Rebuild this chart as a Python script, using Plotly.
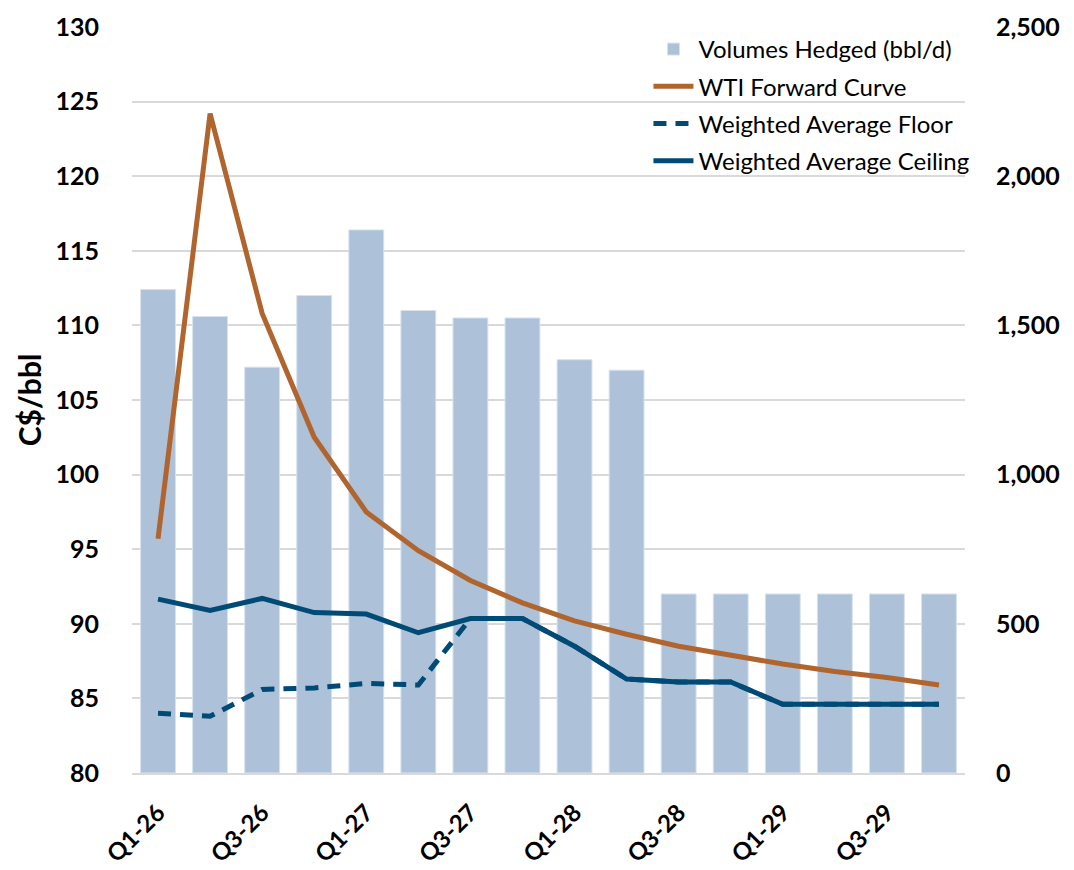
import plotly.graph_objects as go

quarters = ["Q1-26", "Q2-26", "Q3-26", "Q4-26", "Q1-27", "Q2-27", "Q3-27", "Q4-27",
            "Q1-28", "Q2-28", "Q3-28", "Q4-28", "Q1-29", "Q2-29", "Q3-29", "Q4-29"]
volumes = [1620, 1530, 1360, 1600, 1820, 1550, 1525, 1525, 1385, 1350, 600, 600, 600, 600, 600, 600]
wti = [95.7, 124.2, 110.8, 102.5, 97.5, 94.9, 92.9, 91.4, 90.2, 89.3, 88.5, 87.9, 87.3, 86.8, 86.4, 85.9]
floor = [84.0, 83.8, 85.6, 85.7, 86.0, 85.9, 90.35, 90.35, 88.5, 86.3, 86.1, 86.1, 84.6, 84.6, 84.6, 84.6]
ceiling = [91.65, 90.9, 91.7, 90.75, 90.65, 89.4, 90.35, 90.35, 88.5, 86.3, 86.1, 86.1, 84.6, 84.6, 84.6, 84.6]
tick_labels = quarters[::2]

BAR = "#ADC1D9"
ORANGE = "#B0652E"
NAVY = "#004A76"
GRID = "#D9D9D9"

fig = go.Figure()
fig.add_trace(go.Bar(x=quarters, y=volumes, name="Volumes Hedged (bbl/d)", yaxis="y",
                     marker=dict(color=BAR, line=dict(color="#D8E2EE", width=1)),
                     legendgroup="a"))
fig.add_trace(go.Scatter(x=quarters, y=wti, name="WTI Forward Curve", yaxis="y2", mode="lines",
                         line=dict(color=ORANGE, width=5), legendgroup="b"))
fig.add_trace(go.Scatter(x=quarters, y=floor, name="Weighted Average Floor", yaxis="y2", mode="lines",
                         line=dict(color=NAVY, width=5, dash="13px,9px"), legendgroup="c"))
fig.add_trace(go.Scatter(x=quarters, y=ceiling, name="Weighted Average Ceiling", yaxis="y2", mode="lines",
                         line=dict(color=NAVY, width=5), legendgroup="d"))

tickfont = dict(family="Lato", size=25, color="#000000", weight="bold")
xtickfont = dict(family="Lato", size=24, color="#000000", weight="bold")

fig.update_layout(
    width=1066, height=862,
    margin=dict(l=124, r=109, t=19, b=97, autoexpand=False),
    paper_bgcolor="white", plot_bgcolor="white",
    bargap=0.33,
    showlegend=True,
    legend=dict(x=0.62, y=1.0, xanchor="left", yanchor="top",
                bgcolor="rgba(0,0,0,0)", font=dict(family="Lato", size=24, color="#000000"),
                tracegroupgap=3, itemwidth=40),
    xaxis=dict(type="category", categoryorder="array", categoryarray=quarters,
               tickvals=tick_labels, ticktext=tick_labels, tickangle=-45, tickfont=xtickfont,
               showline=True, linecolor=GRID, linewidth=2, ticks="", showgrid=False,
               ticklabelstandoff=14, automargin=False),
    yaxis=dict(side="right", range=[0, 2500], dtick=500, tickformat=",", tickfont=tickfont,
               showgrid=True, gridcolor=GRID, gridwidth=2,
               minor=dict(dtick=250, showgrid=True, gridcolor=GRID, gridwidth=2),
               zeroline=False, ticks="", ticklabelstandoff=30, automargin=False,
               ticklabeloverflow="allow"),
    yaxis2=dict(overlaying="y", side="left", range=[80, 130], dtick=5, tickfont=tickfont,
                showgrid=False, zeroline=False, ticks="", ticklabelstandoff=32, automargin=False,
                ticklabeloverflow="allow",
                title=dict(text="C$/bbl", font=dict(family="Lato", size=30, color="#000000", weight="bold"),
                           standoff=4)),
)

fig.write_html("out.html")
